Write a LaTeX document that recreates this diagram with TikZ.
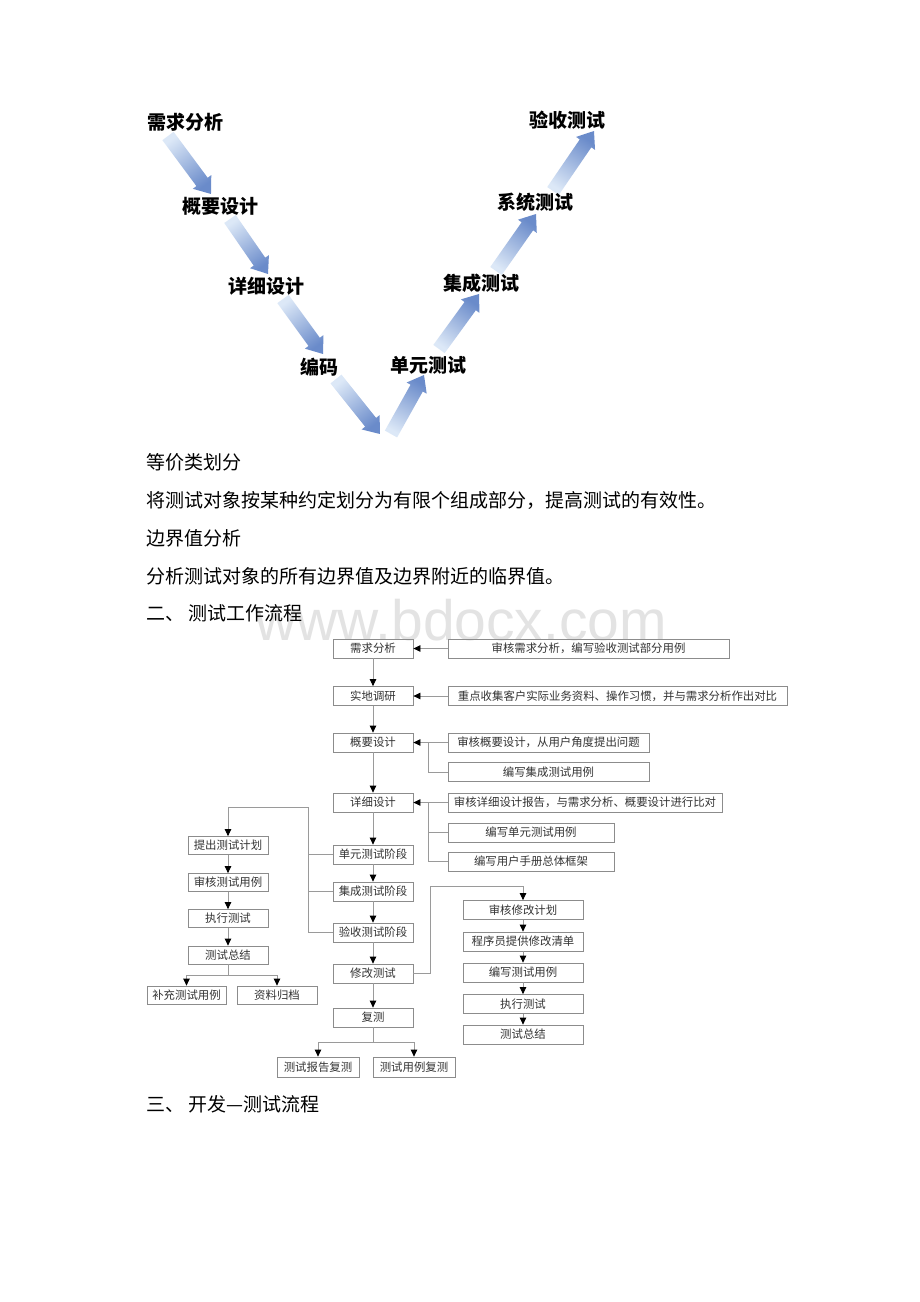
\documentclass[tikz,border=0pt]{standalone}
\usepackage{fontspec}
\setmainfont{Noto Sans CJK SC}
\newfontfamily\wmfont{Liberation Sans}
\usetikzlibrary{arrows.meta}

\definecolor{boxline}{HTML}{8C8C8C}
\definecolor{conline}{HTML}{9A9A9A}
\definecolor{boxtext}{HTML}{333333}
\definecolor{vtail}{HTML}{DCE8F7}
\definecolor{vhead}{HTML}{6A8BCA}

\tikzset{
  fbox/.style={draw=boxline, line width=0.8pt, minimum height=19pt, inner sep=0pt,
    text=boxtext, font=\fontsize{11.4}{12}\selectfont},
  conn/.style={draw=conline, line width=0.8pt},
  arr/.style={conn, -{Triangle[length=7pt,width=6.5pt,color=black]}},
  vlabel/.style={inner sep=0pt, font=\fontsize{19}{19}\selectfont\bfseries},
  bodytext/.style={anchor=west, inner sep=0pt, font=\fontsize{19}{22}\selectfont}
}

\begin{document}
\begin{tikzpicture}[x=1pt,y=1pt,yscale=-1,xscale=1]
        \useasboundingbox[fill=white] (0,0) rectangle (920,1302);

        % watermark
        \node[anchor=base west, inner sep=0pt, text=black!11, font=\wmfont\fontsize{57}{57}\selectfont] (wm) at (255,640) {www.bdocx.com};

        % V model arrows
        \foreach \ax/\ay/\bx/\by in {168/136/211/194, 230/219/268/274, 283/299/323/354, 336/379/380/434,
                                     391/434/424/375, 439/349/479/294, 496/271/536/214, 553/191/594/131}{
          \pgfmathsetmacro{\ang}{atan2(\by-\ay,\bx-\ax)}
          \pgfmathsetmacro{\len}{veclen(\bx-\ax,\by-\ay)}
          \begin{scope}[shift={(\ax,\ay)},rotate=\ang]
            \shade[top color=vtail, bottom color=vhead, shading angle=90-\ang]
              (0,-7) -- (\len-15,-7) -- (\len-15,-11.5) -- (\len,0) -- (\len-15,11.5) -- (\len-15,7) -- (0,7) -- cycle;
          \end{scope}
        }

        % V model labels
        \node[vlabel] (v1) at (185,122) {需求分析};
        \node[vlabel] (v2) at (220,206) {概要设计};
        \node[vlabel] (v3) at (266.5,286.5) {详细设计};
        \node[vlabel] (v4) at (319,367.5) {编码};
        \node[vlabel] (v5) at (428.5,365) {单元测试};
        \node[vlabel] (v6) at (481.5,283.5) {集成测试};
        \node[vlabel] (v7) at (535,202.5) {系统测试};
        \node[vlabel] (v8) at (567.5,120.5) {验收测试};

        % Text Node
        \node[bodytext] (t1) at (146,462) {等价类划分};
        \node[bodytext] (t2) at (146,500) {将测试对象按某种约定划分为有限个组成部分，提高测试的有效性。};
        \node[bodytext] (t3) at (146,538) {边界值分析};
        \node[bodytext] (t4) at (146,576) {分析测试对象的所有边界值及边界附近的临界值。};
        \node[bodytext] (h2) at (146,613) {二、 测试工作流程};
        \node[bodytext] (h3) at (146,1104) {三、 开发—测试流程};

        % main column
        \node[fbox, minimum width=80pt] (xqfx) at (373,648.5) {需求分析};
        \node[fbox, minimum width=80pt] (sddy) at (373,696) {实地调研};
        \node[fbox, minimum width=80pt] (gysj) at (373,742.5) {概要设计};
        \node[fbox, minimum width=80pt] (xxsj) at (373,802.5) {详细设计};
        \node[fbox, minimum width=80pt] (dycs) at (373,854.5) {单元测试阶段};
        \node[fbox, minimum width=80pt] (jccs) at (373,891.5) {集成测试阶段};
        \node[fbox, minimum width=80pt] (yscs) at (373,932.5) {验收测试阶段};
        \node[fbox, minimum width=80pt] (xgcs) at (373,973.5) {修改测试};
        \node[fbox, minimum width=80pt] (fc) at (373,1017.5) {复测};
        \node[fbox, minimum width=82pt, minimum height=20pt] (cbfc) at (318,1067) {测试报告复测};
        \node[fbox, minimum width=82pt, minimum height=20pt] (cyfc) at (414,1067) {测试用例复测};

        % review boxes
        \node[fbox, minimum width=281pt] (shxq) at (588.5,648.5) {审核需求分析，编写验收测试部分用例};
        \node[fbox, minimum width=339pt] (zdsj) at (617.5,696) {重点收集客户实际业务资料、操作习惯，并与需求分析作出对比};
        \node[fbox, minimum width=201pt] (shgy) at (548.5,742.5) {审核概要设计，从用户角度提出问题};
        \node[fbox, minimum width=201pt] (bxjc) at (548.5,772) {编写集成测试用例};
        \node[fbox, minimum width=274pt] (shxx) at (585,802.5) {审核详细设计报告，与需求分析、概要设计进行比对};
        \node[fbox, minimum width=166pt] (bxdy) at (531,832.5) {编写单元测试用例};
        \node[fbox, minimum width=166pt] (bxyh) at (531,861.5) {编写用户手册总体框架};

        % test phase column
        \node[fbox, minimum width=80pt, minimum height=18pt] (tcjh) at (228,845.5) {提出测试计划};
        \node[fbox, minimum width=80pt, minimum height=18pt] (shyl) at (228,882.5) {审核测试用例};
        \node[fbox, minimum width=80pt, minimum height=18pt] (zxcs) at (228,918.5) {执行测试};
        \node[fbox, minimum width=80pt, minimum height=18pt] (cszj) at (228,955) {测试总结};
        \node[fbox, minimum width=79pt, minimum height=18pt] (bcyl) at (186.5,995) {补充测试用例};
        \node[fbox, minimum width=80pt, minimum height=18pt] (zlgd) at (277,995) {资料归档};

        % modification column
        \node[fbox, minimum width=120pt] (shxg) at (523,910) {审核修改计划};
        \node[fbox, minimum width=120pt] (cxy) at (523,941.5) {程序员提供修改清单};
        \node[fbox, minimum width=120pt] (bxyl) at (523,972.5) {编写测试用例};
        \node[fbox, minimum width=120pt] (zxcs2) at (523,1004) {执行测试};
        \node[fbox, minimum width=120pt] (cszj2) at (523,1034.5) {测试总结};

        \coordinate (jdtop) at (308,807);
        \coordinate (zjfork) at (228,975);
        \coordinate (xgturn) at (430,886);
        \coordinate (fcfork) at (373,1042);

        % connectors
        \draw[arr] (xqfx) -- (sddy);
        \draw[arr] (sddy) -- (gysj);
        \draw[arr] (gysj) -- (xxsj);
        \draw[arr] (xxsj) -- (dycs);
        \draw[arr] (dycs) -- (jccs);
        \draw[arr] (jccs) -- (yscs);
        \draw[arr] (yscs) -- (xgcs);
        \draw[arr] (xgcs) -- (fc);

        \draw[arr] (shxq) -- (xqfx);
        \draw[arr] (zdsj) -- (sddy);
        \draw[arr] (shgy) -- (gysj);
        \draw[conn] (bxjc.west) -| ([xshift=15pt]gysj.east);
        \draw[arr] (shxx) -- (xxsj);
        \draw[conn] (bxdy.west) -| ([xshift=15pt]xxsj.east);
        \draw[conn] (bxyh.west) -| ([xshift=15pt]xxsj.east);

        \draw[arr] (yscs.west) -| (jdtop) -| (tcjh.north);
        \draw[conn] (dycs.west) -- (dycs.west -| jdtop);
        \draw[conn] (jccs.west) -- (jccs.west -| jdtop);
        \draw[arr] (tcjh) -- (shyl);
        \draw[arr] (shyl) -- (zxcs);
        \draw[arr] (zxcs) -- (cszj);
        \draw[conn] (cszj.south) -- (zjfork);
        \draw[arr] (zjfork) -| (bcyl.north);
        \draw[arr] (zjfork) -| (zlgd.north);

        \draw[arr] (xgcs.east) -| (xgturn) -| (shxg.north);
        \draw[arr] (shxg) -- (cxy);
        \draw[arr] (cxy) -- (bxyl);
        \draw[arr] (bxyl) -- (zxcs2);
        \draw[arr] (zxcs2) -- (cszj2);

        \draw[conn] (fc.south) -- (fcfork);
        \draw[arr] (fcfork) -| (cbfc.north);
        \draw[arr] (fcfork) -| (cyfc.north);
\end{tikzpicture}
\end{document}
